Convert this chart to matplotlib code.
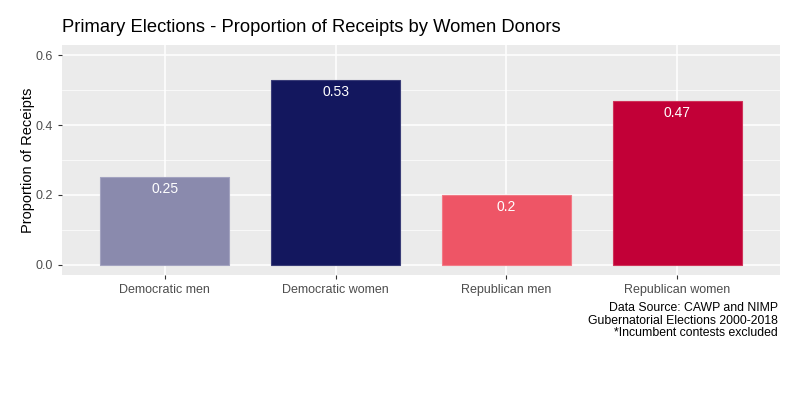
import matplotlib
matplotlib.use('Agg')
import matplotlib.pyplot as plt

groups = ['Democratic men', 'Democratic women', 'Republican men', 'Republican women']
share = [0.25, 0.53, 0.20, 0.47]
labels = ['0.25', '0.53', '0.2', '0.47']
colors = ['#8a8aad', '#13175e', '#ee5566', '#c20037']
edges = ['#a3a3c0', '#3a3d78', '#f27a86', '#cf3359']

plt.rcParams['font.family'] = ['Liberation Sans', 'DejaVu Sans']

fig = plt.figure(figsize=(8, 4), dpi=100)
ax = fig.add_axes([62/800, 1 - 275/400, 718/800, 230/400])
ax.set_facecolor('#ebebeb')

x = list(range(1, len(groups) + 1))
ax.bar(x, share, width=0.75, color=colors, edgecolor=edges, linewidth=0.8, zorder=3)
for xi, v, t in zip(x, share, labels):
    ax.text(xi, v - 0.014, t, ha='center', va='top', color='white', fontsize=10, zorder=4)

ax.set_xlim(0.4, 4.6)
ax.set_ylim(-0.03, 0.63)
ax.set_xticks(x)
ax.set_xticklabels(groups)
ax.set_yticks([0, 0.2, 0.4, 0.6])
ax.set_yticklabels(['0.0', '0.2', '0.4', '0.6'])
ax.set_yticks([0.1, 0.3, 0.5], minor=True)
ax.grid(which='major', color='white', linewidth=1.1, zorder=0)
ax.grid(which='minor', axis='y', color='white', linewidth=0.5, zorder=0)
ax.tick_params(which='major', colors='#333333', labelcolor='#4d4d4d', labelsize=9, length=3, width=0.8)
ax.tick_params(which='minor', length=0)
for s in ax.spines.values():
    s.set_visible(False)

ax.set_ylabel('Proportion of Receipts', fontsize=10.5, color='black', labelpad=0)
ax.yaxis.set_label_coords(-27/718, 0.5)
fig.text(62/800, 1 - 28/400, 'Primary Elections - Proportion of Receipts by Women Donors',
         fontsize=13.2, va='center', ha='left')
fig.text(778/800, 1 - 302/400,
         'Data Source: CAWP and NIMP\nGubernatorial Elections 2000-2018\n*Incumbent contests excluded',
         fontsize=8.8, ha='right', va='top', linespacing=1.08)

fig.savefig('out.png', dpi=100)
